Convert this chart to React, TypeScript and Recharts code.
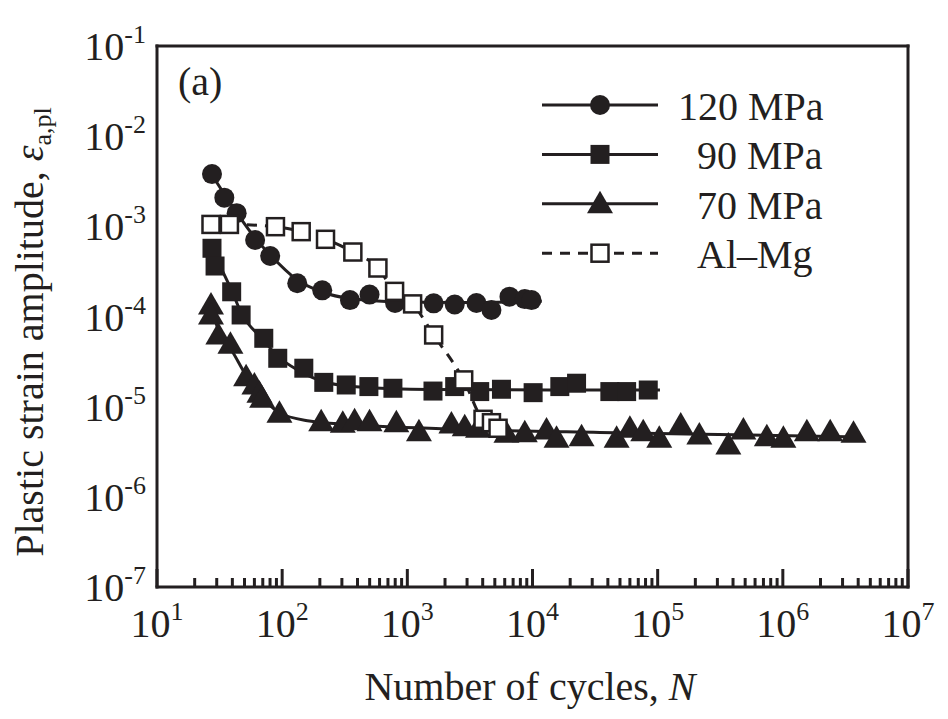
import React from 'react';
import { ComposedChart, Line, Scatter, XAxis, YAxis, Legend } from 'recharts';

const INK = '#231f20';
const SERIF = '"Liberation Serif", "Times New Roman", Times, serif';

// axis ticks
const X_DECADES = [1e1, 1e2, 1e3, 1e4, 1e5, 1e6, 1e7];
const Y_LABEL_DECADES = [1e-7, 1e-6, 1e-5, 1e-4, 1e-3, 1e-2, 1e-1];
const Y_MARK_DECADES = [1e-6, 1e-5, 1e-4, 1e-3, 1e-2, 1e-1];
const MINOR = [2, 3, 4, 5, 6, 7, 8, 9];

// 120 MPa
const n120 = [27.5, 34.5, 43.3, 60.8, 80.2, 132, 209, 348, 499, 798, 1623, 2390, 3565, 4699, 6546, 8670, 9817];
const e120 = [3.8e-3, 2.08e-3, 1.4e-3, 7.06e-4, 4.69e-4, 2.34e-4, 1.95e-4, 1.52e-4, 1.75e-4, 1.41e-4, 1.4e-4, 1.36e-4, 1.41e-4, 1.18e-4, 1.66e-4, 1.56e-4, 1.52e-4];
const fitN120 = [27.2, 43, 61, 80.5, 132, 209, 350, 868, 3150, 11870];
const fitE120 = [3.8e-3, 1.44e-3, 7.4e-4, 4.8e-4, 2.54e-4, 1.87e-4, 1.58e-4, 1.45e-4, 1.43e-4, 1.48e-4];

// 90 MPa
const n90 = [27.5, 29.1, 39.5, 47.0, 71.3, 92.2, 148.9, 215, 325, 493, 767, 1603, 2390, 3787, 5649, 10115, 16530, 22490, 41500, 56500, 84100];
const e90 = [5.71e-4, 3.63e-4, 1.88e-4, 1.04e-4, 5.73e-5, 3.44e-5, 2.67e-5, 1.86e-5, 1.74e-5, 1.67e-5, 1.6e-5, 1.49e-5, 1.67e-5, 1.47e-5, 1.56e-5, 1.43e-5, 1.67e-5, 1.82e-5, 1.47e-5, 1.47e-5, 1.53e-5];
const fitN90 = [27.5, 39.3, 47.2, 70.8, 91.7, 137.5, 218, 415, 1508, 13750, 104300];
const fitE90 = [5.46e-4, 1.97e-4, 1.09e-4, 5.49e-5, 3.65e-5, 2.49e-5, 1.88e-5, 1.65e-5, 1.55e-5, 1.53e-5, 1.53e-5];

// 70 MPa
const n70 = [27.0, 27.0, 30.9, 38.6, 51.5, 60.0, 65.8, 69.2, 95.1, 205, 305, 379, 499, 817, 1238, 2249, 2874, 3670, 6194, 8675, 12940, 15560, 24660, 46990, 60000, 76700, 103000, 152800, 215200, 367000, 484000, 745000, 1.01e6, 1.556e6, 2.39e6, 3.67e6];
const e70 = [1.34e-4, 1.04e-4, 6.24e-5, 4.92e-5, 2.15e-5, 1.74e-5, 1.41e-5, 1.24e-5, 8.45e-6, 6.81e-6, 6.54e-6, 6.99e-6, 6.81e-6, 6.64e-6, 5.28e-6, 6.43e-6, 6.0e-6, 5.76e-6, 5.07e-6, 5.14e-6, 5.51e-6, 4.46e-6, 4.65e-6, 4.46e-6, 5.76e-6, 5.28e-6, 4.46e-6, 6.27e-6, 4.85e-6, 3.76e-6, 5.51e-6, 4.65e-6, 4.46e-6, 5.28e-6, 5.28e-6, 5.07e-6];
const fitN70 = [27.0, 31.5, 39.3, 51.8, 68.3, 95.1, 165, 345, 2178, 34540, 547000, 4.15e6];
const fitE70 = [1.34e-4, 6.56e-5, 4.25e-5, 2.19e-5, 1.31e-5, 8.51e-6, 6.94e-6, 6.34e-6, 5.65e-6, 5.17e-6, 4.85e-6, 4.61e-6];

// Al-Mg
const nAlMg = [27.0, 37.9, 88.4, 141.9, 222, 367, 582, 791, 1102, 1623, 2820, 4027, 4699, 5306];
const eAlMg = [1.05e-3, 1.05e-3, 9.91e-4, 8.73e-4, 7.18e-4, 5.19e-4, 3.45e-4, 1.9e-4, 1.38e-4, 6.24e-5, 1.98e-5, 7.24e-6, 6.64e-6, 5.76e-6];

const LEGEND_LABELS = ['120 MPa', '90 MPa', '70 MPa', 'Al–Mg'];

const pts = (ns: number[], es: number[]) => ns.map((n, i) => ({ n, e: es[i] }));
const withMinors = (decades: number[]) => {
  const out: number[] = [];
  decades.forEach((d, i) => {
    out.push(d);
    if (i < decades.length - 1) MINOR.forEach((m) => out.push(m * d));
  });
  return out;
};
const isDecade = (v: number) => Math.abs(Math.log10(v) - Math.round(Math.log10(v))) < 1e-6;
const expOf = (v: number) => `${Math.round(Math.log10(v))}`;

const xTicks = withMinors(X_DECADES);
const yMarkTicks = withMinors(Y_MARK_DECADES);

const MAJOR_LEN = 18;
const MINOR_LEN = 9;

function BottomTick(props: any) {
  const { x, y, payload } = props;
  const major = isDecade(payload.value);
  return (
    <g>
      <line x1={x} x2={x} y1={y} y2={y - (major ? MAJOR_LEN : MINOR_LEN)} stroke={INK} strokeWidth={3} />
      {major && (
        <text x={x} y={y + 50} textAnchor="middle" fontFamily={SERIF} fontSize={40} fill={INK}>
          10<tspan fontSize={26} dy={-17}>{expOf(payload.value)}</tspan>
        </text>
      )}
    </g>
  );
}

function TopTick(props: any) {
  const { x, y, payload } = props;
  const major = isDecade(payload.value);
  return <line x1={x} x2={x} y1={y} y2={y + (major ? MAJOR_LEN : MINOR_LEN)} stroke={INK} strokeWidth={3} />;
}

function LeftMarkTick(props: any) {
  const { x, y, payload } = props;
  const major = isDecade(payload.value);
  return <line x1={x} x2={x + (major ? MAJOR_LEN : MINOR_LEN)} y1={y} y2={y} stroke={INK} strokeWidth={3} />;
}

function RightMarkTick(props: any) {
  const { x, y, payload } = props;
  const major = isDecade(payload.value);
  return <line x1={x} x2={x - (major ? MAJOR_LEN : MINOR_LEN)} y1={y} y2={y} stroke={INK} strokeWidth={3} />;
}

function LeftLabelTick(props: any) {
  const { x, y, payload } = props;
  return (
    <text x={x - 10} y={y + 14} textAnchor="end" fontFamily={SERIF} fontSize={40} fill={INK}>
      10<tspan fontSize={26} dy={-17}>{expOf(payload.value)}</tspan>
    </text>
  );
}

const Dot = (p: any) => <circle cx={p.cx} cy={p.cy} r={10} fill={INK} />;
const Box = (p: any) => <rect x={p.cx - 9.5} y={p.cy - 9.5} width={19} height={19} fill={INK} />;
const Tri = (p: any) => (
  <polygon points={`${p.cx},${p.cy - 13} ${p.cx + 13},${p.cy + 9.5} ${p.cx - 13},${p.cy + 9.5}`} fill={INK} />
);
const OpenBox = (p: any) => (
  <rect x={p.cx - 8.5} y={p.cy - 8.5} width={17} height={17} fill="#fff" stroke={INK} strokeWidth={2.5} />
);

const MARKERS = [Dot, Box, Tri, OpenBox];

function LegendBox() {
  // local coords: image (530, 80) is the origin
  const rowY = (i: number) => 25 + i * 49.4;
  return (
    <svg width={320} height={200}>
      {LEGEND_LABELS.map((label, i) => {
        const cy = rowY(i);
        const M = MARKERS[i];
        return (
          <g key={label}>
            <line x1={12} x2={128} y1={cy} y2={cy} stroke={INK} strokeWidth={3} strokeDasharray={i === 3 ? '10 8' : undefined} />
            <M cx={70} cy={cy} />
            <text x={i === 0 ? 148 : 167} y={cy + 15} fontFamily={SERIF} fontSize={40} fill={INK}>
              {label}
            </text>
          </g>
        );
      })}
    </svg>
  );
}

const W = 940;
const H = 711;
// axes are 1px thick boxes (a 0px axis is not drawn), margins make up the rest
const AX = 1;

export default function App() {
  return (
    <div style={{ position: 'relative', width: W, height: H, background: '#fff' }}>
      <ComposedChart width={W} height={H} margin={{ top: 38 - AX, right: 40 - AX, bottom: 132 - AX, left: 149 - 2 * AX }}>
        <XAxis
          xAxisId="b"
          dataKey="n"
          type="number"
          scale="log"
          domain={[10, 1e7]}
          ticks={xTicks}
          interval={0}
          height={AX}
          tickSize={0}
          tickMargin={0}
          tickLine={false}
          tick={BottomTick}
          axisLine={{ stroke: INK, strokeWidth: 3, strokeLinecap: 'square' }}
        />
        <XAxis
          xAxisId="t"
          orientation="top"
          type="number"
          scale="log"
          domain={[10, 1e7]}
          ticks={xTicks}
          interval={0}
          height={AX}
          tickSize={0}
          tickMargin={0}
          tickLine={false}
          tick={TopTick}
          axisLine={{ stroke: INK, strokeWidth: 3, strokeLinecap: 'square' }}
        />
        <YAxis
          yAxisId="mark"
          type="number"
          scale="log"
          domain={[1e-6, 1e-1]}
          ticks={yMarkTicks}
          interval={0}
          width={AX}
          tickSize={0}
          tickMargin={0}
          tickLine={false}
          tick={LeftMarkTick}
          axisLine={{ stroke: INK, strokeWidth: 3, strokeLinecap: 'square' }}
        />
        <YAxis
          yAxisId="v"
          dataKey="e"
          type="number"
          scale="log"
          domain={[1e-7, 1e-1]}
          ticks={Y_LABEL_DECADES}
          interval={0}
          width={AX}
          tickSize={0}
          tickMargin={0}
          tickLine={false}
          tick={LeftLabelTick}
          axisLine={false}
        />
        <YAxis
          yAxisId="markR"
          orientation="right"
          type="number"
          scale="log"
          domain={[1e-6, 1e-1]}
          ticks={yMarkTicks}
          interval={0}
          width={AX}
          tickSize={0}
          tickMargin={0}
          tickLine={false}
          tick={RightMarkTick}
          axisLine={{ stroke: INK, strokeWidth: 3, strokeLinecap: 'square' }}
        />

        <Line xAxisId="b" yAxisId="v" data={pts(fitN120, fitE120)} dataKey="e" type="monotone" stroke={INK} strokeWidth={3} dot={false} isAnimationActive={false} />
        <Line xAxisId="b" yAxisId="v" data={pts(fitN90, fitE90)} dataKey="e" type="monotone" stroke={INK} strokeWidth={3} dot={false} isAnimationActive={false} />
        <Line xAxisId="b" yAxisId="v" data={pts(fitN70, fitE70)} dataKey="e" type="monotone" stroke={INK} strokeWidth={3} dot={false} isAnimationActive={false} />
        <Scatter xAxisId="b" yAxisId="v" data={pts(n120, e120)} shape={Dot} isAnimationActive={false} />
        <Scatter xAxisId="b" yAxisId="v" data={pts(n90, e90)} shape={Box} isAnimationActive={false} />
        <Scatter xAxisId="b" yAxisId="v" data={pts(n70, e70)} shape={Tri} isAnimationActive={false} />
        <Line xAxisId="b" yAxisId="v" data={pts(nAlMg, eAlMg)} dataKey="e" type="monotone" stroke={INK} strokeWidth={3} strokeDasharray="10 8" dot={false} isAnimationActive={false} />
        <Scatter xAxisId="b" yAxisId="v" data={pts(nAlMg, eAlMg)} shape={OpenBox} isAnimationActive={false} />

        <Legend
          layout="vertical"
          align="center"
          verticalAlign="middle"
          content={() => <LegendBox />}
          wrapperStyle={{ left: 522, top: 72, width: 320, height: 200 }}
        />
      </ComposedChart>

      <svg width={W} height={H} style={{ position: 'absolute', left: 0, top: 0, pointerEvents: 'none' }}>
        <text x={170} y={87} fontFamily={SERIF} fontSize={40} fill={INK}>(a)</text>
        <text x={522} y={692} textAnchor="middle" fontFamily={SERIF} fontSize={40} fill={INK}>
          Number of cycles, <tspan fontStyle="italic">N</tspan>
        </text>
        <text transform="translate(35,324) rotate(-90)" textAnchor="middle" fontFamily={SERIF} fontSize={40} fill={INK}>
          Plastic strain amplitude, <tspan fontStyle="italic">ε</tspan>
          <tspan fontSize={26} dy={8}>a,pl</tspan>
        </text>
      </svg>
    </div>
  );
}
